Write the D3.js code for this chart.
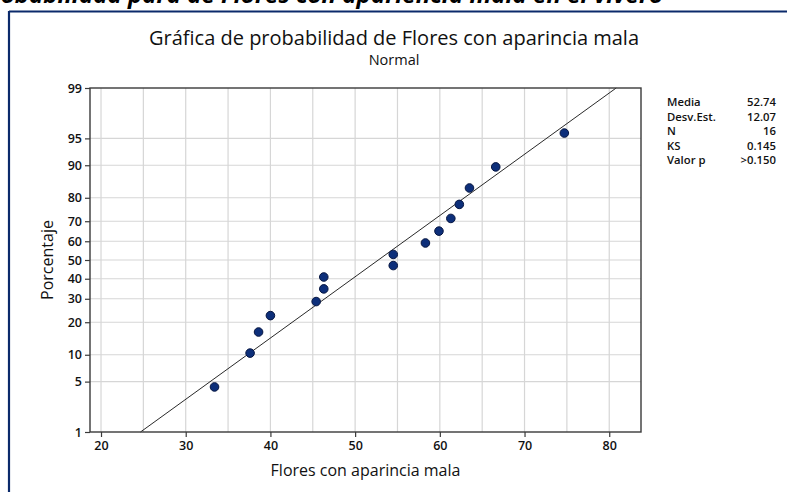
<!DOCTYPE html>
<html><head><meta charset="utf-8">
<script src="https://cdn.jsdelivr.net/npm/d3@7"></script>
<style>body{margin:0;background:#fff}svg{display:block}</style>
</head><body><svg id="c" width="787" height="492"></svg>
<script>
// ---- data ----
const values   = [33.4, 37.6, 38.6, 40.0, 45.4, 46.3, 46.3, 54.5, 54.5, 58.3, 59.9, 61.3, 62.3, 63.5, 66.6, 74.7];
const percents = [4.3, 10.4, 16.5, 22.6, 28.7, 34.8, 40.9, 47.0, 53.0, 59.1, 65.2, 71.3, 77.4, 83.5, 89.6, 95.7];
const yTicks   = [1, 5, 10, 20, 30, 40, 50, 60, 70, 80, 90, 95, 99];
const xTicks   = [20, 30, 40, 50, 60, 70, 80];
const xGrid    = [20, 25, 30, 35, 40, 45, 50, 55, 60, 65, 70, 75, 80];
const statLabels = ["Media", "Desv.Est.", "N", "KS", "Valor p"];
const statValues = ["52.74", "12.07", "16", "0.145", ">0.150"];
const fitMean = 52.74, fitSd = 12.07;
const titleText = "Gráfica de probabilidad de Flores con aparincia mala";
const subtitleText = "Normal";
const xTitle = "Flores con aparincia mala";
const yTitle = "Porcentaje";
const topCaption = "Gráfica de probabilidad para de Flores con apariencia mala en el vivero";

// inverse normal CDF (Acklam)
function qnorm(p){
  const a=[-3.969683028665376e+01,2.209460984245205e+02,-2.759285104469687e+02,1.383577518672690e+02,-3.066479806614716e+01,2.506628277459239e+00];
  const b=[-5.447609879822406e+01,1.615858368580409e+02,-1.556989798598866e+02,6.680131188771972e+01,-1.328068155288572e+01];
  const c=[-7.784894002430293e-03,-3.223964580411365e-01,-2.400758277161838e+00,-2.549732539343734e+00,4.374664141464968e+00,2.938163982698783e+00];
  const d=[7.784695709041462e-03,3.224671290700398e-01,2.445134137142996e+00,3.754408661907416e+00];
  const pl=0.02425, ph=1-pl; let q,r;
  if(p<pl){q=Math.sqrt(-2*Math.log(p));return (((((c[0]*q+c[1])*q+c[2])*q+c[3])*q+c[4])*q+c[5])/((((d[0]*q+d[1])*q+d[2])*q+d[3])*q+1);}
  if(p<=ph){q=p-0.5;r=q*q;return (((((a[0]*r+a[1])*r+a[2])*r+a[3])*r+a[4])*r+a[5])*q/(((((b[0]*r+b[1])*r+b[2])*r+b[3])*r+b[4])*r+1);}
  q=Math.sqrt(-2*Math.log(1-p));return -(((((c[0]*q+c[1])*q+c[2])*q+c[3])*q+c[4])*q+c[5])/((((d[0]*q+d[1])*q+d[2])*q+d[3])*q+1);
}

const svg = d3.select("#c");
const L=90, R=641, T=88, B=432;
const x = d3.scaleLinear().domain([18.7, 83.75]).range([L, R]);
const z = d3.scaleLinear().domain([qnorm(0.01), qnorm(0.99)]).range([B, T]);
const yp = p => z(qnorm(p/100));

// cropped caption at very top (only its lower part is visible)
const cap = svg.append("text").attr("x", 0).attr("y", 3)
  .attr("font-family","Open Sans").attr("font-style","italic").attr("font-weight",700)
  .attr("font-size",24).attr("fill","#000").text(topCaption);
const off = cap.node().getSubStringLength(0, topCaption.indexOf("para"));
cap.attr("x", 128 - off);

// frame
svg.append("line").attr("x1",9).attr("x2",787).attr("y1",11.5).attr("y2",11.5).attr("stroke","#0b2a6b").attr("stroke-width",2.2);
svg.append("line").attr("x1",9).attr("x2",9).attr("y1",11).attr("y2",492).attr("stroke","#0b2a6b").attr("stroke-width",2.2);

// grid
const g = svg.append("g");
g.selectAll(".vg").data(xGrid).join("line")
  .attr("x1",d=>x(d)).attr("x2",d=>x(d)).attr("y1",T).attr("y2",B)
  .attr("stroke","#d6d6d6").attr("stroke-width",1.2);
g.selectAll(".hg").data(yTicks.slice(1,-1)).join("line")
  .attr("x1",L).attr("x2",R).attr("y1",d=>yp(d)).attr("y2",d=>yp(d))
  .attr("stroke","#d6d6d6").attr("stroke-width",1.2);

// fitted line
const zlo=qnorm(0.01), zhi=qnorm(0.99);
svg.append("line")
  .attr("x1",x(fitMean+fitSd*zlo)).attr("y1",z(zlo))
  .attr("x2",x(fitMean+fitSd*zhi)).attr("y2",z(zhi))
  .attr("stroke","#111").attr("stroke-width",0.9);

// border
svg.append("rect").attr("x",L).attr("y",T).attr("width",R-L).attr("height",B-T)
  .attr("fill","none").attr("stroke","#3a3a3a").attr("stroke-width",1.4);

// axes
const tickFont = "Open Sans";
const yAxis = d3.axisLeft(z).tickValues(yTicks.map(p=>qnorm(p/100))).tickFormat((d,i)=>yTicks[i]).tickSize(5).tickPadding(3);
const ya = svg.append("g").attr("transform",`translate(${L},0)`).call(yAxis);
const xAxis = d3.axisBottom(x).tickValues(xTicks).tickSize(5).tickPadding(4);
const xa = svg.append("g").attr("transform",`translate(0,${B})`).call(xAxis);
[ya,xa].forEach(a=>{
  a.select(".domain").remove();
  a.selectAll("line").attr("stroke","#3a3a3a").attr("stroke-width",1.2);
  a.selectAll("text").attr("font-family",tickFont).attr("font-weight",600).attr("font-size",12.5).attr("fill","#111");
});

// points
svg.selectAll(".pt").data(values).join("circle")
  .attr("cx",d=>x(d)).attr("cy",(d,i)=>yp(percents[i])).attr("r",4.3)
  .attr("fill","#0d2f7a").attr("stroke","#061540").attr("stroke-width",1);

// titles
svg.append("text").attr("x",394).attr("y",45).attr("text-anchor","middle")
  .attr("font-family","Open Sans").attr("font-size",20).attr("fill","#111").text(titleText);
svg.append("text").attr("x",394).attr("y",65).attr("text-anchor","middle")
  .attr("font-family","Open Sans").attr("font-size",14.5).attr("fill","#111").text(subtitleText);
svg.append("text").attr("x",(L+R)/2).attr("y",476).attr("text-anchor","middle")
  .attr("font-family","Open Sans").attr("font-size",16).attr("fill","#111").text(xTitle);
svg.append("text").attr("transform",`translate(53,${(T+B)/2}) rotate(-90)`).attr("text-anchor","middle")
  .attr("font-family","Open Sans").attr("font-size",16).attr("fill","#111").text(yTitle);

// stats table
const st = svg.append("g");
st.selectAll(".sl").data(statLabels).join("text")
  .attr("x",667).attr("y",(d,i)=>106+i*14.6)
  .attr("font-family",tickFont).attr("font-weight",600).attr("font-size",11.3).attr("fill","#111").text(d=>d);
st.selectAll(".sv").data(statValues).join("text")
  .attr("x",776).attr("y",(d,i)=>106+i*14.6).attr("text-anchor","end")
  .attr("font-family",tickFont).attr("font-weight",600).attr("font-size",11.3).attr("fill","#111").text(d=>d);
</script></body></html>
